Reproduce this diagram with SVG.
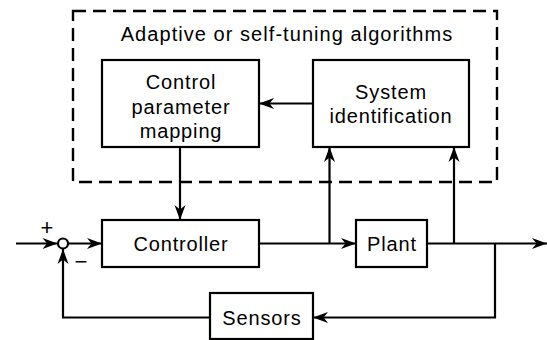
<svg xmlns="http://www.w3.org/2000/svg" width="547" height="340" viewBox="0 0 547 340">
  <defs>
    <style>
      .box { fill: #ffffff; stroke: #000000; stroke-width: 2.2; }
      .frame { fill: none; stroke: #000000; stroke-width: 2.4; stroke-dasharray: 13 7; }
      .wire { fill: none; stroke: #000000; stroke-width: 2.2; }
      .lbl { font-family: "Liberation Sans", Arial, Helvetica, sans-serif; font-size: 20px; letter-spacing: 0.85px; fill: #000000; text-anchor: middle; }
      .title { letter-spacing: 1.05px; }
      .sign { font-family: "Liberation Sans", Arial, sans-serif; font-size: 22px; fill: #000000; text-anchor: middle; }
    </style>
    <marker id="arrow" markerUnits="userSpaceOnUse" markerWidth="18" markerHeight="12" viewBox="-16 -6 17 12" refX="0" refY="0" orient="auto">
      <path d="M0,0 L-15,-5.5 L-10.5,0 L-15,5.5 Z" fill="#000000"/>
    </marker>
  </defs>

  <!-- adaptive / self-tuning enclosure -->
  <g id="adaptive-frame">
    <rect class="frame" x="73" y="11" width="424" height="171"/>
    <text class="lbl title" x="287" y="41">Adaptive or self-tuning algorithms</text>
  </g>

  <g id="control-parameter-mapping">
    <rect class="box" x="102" y="60" width="157" height="87"/>
    <text class="lbl" x="181" y="89">Control</text>
    <text class="lbl" x="181" y="114">parameter</text>
    <text class="lbl" x="181" y="138">mapping</text>
  </g>

  <g id="system-identification">
    <rect class="box" x="313" y="60" width="156" height="87"/>
    <text class="lbl" x="391" y="99">System</text>
    <text class="lbl" x="391" y="123">identification</text>
  </g>

  <g id="controller">
    <rect class="box" x="102" y="220" width="157" height="47"/>
    <text class="lbl" x="181" y="251">Controller</text>
  </g>

  <g id="plant">
    <rect class="box" x="356" y="220" width="71" height="47"/>
    <text class="lbl" x="392" y="251">Plant</text>
  </g>

  <g id="sensors">
    <rect class="box" x="210" y="293" width="103" height="46"/>
    <text class="lbl" x="262" y="325">Sensors</text>
  </g>

  <g id="summing-junction">
    <circle cx="63" cy="243.5" r="5" fill="#ffffff" stroke="#000000" stroke-width="2.2"/>
    <text class="sign" x="47" y="235">+</text>
    <text class="sign" x="81" y="269">−</text>
  </g>

  <g id="connectors">
    <line class="wire" x1="16" y1="243.5" x2="57.5" y2="243.5" marker-end="url(#arrow)"/>
    <line class="wire" x1="68" y1="243.5" x2="102" y2="243.5" marker-end="url(#arrow)"/>
    <line class="wire" x1="259" y1="243.5" x2="356" y2="243.5" marker-end="url(#arrow)"/>
    <line class="wire" x1="329.5" y1="243.5" x2="329.5" y2="147" marker-end="url(#arrow)"/>
    <line class="wire" x1="427" y1="243.5" x2="547" y2="243.5" marker-end="url(#arrow)"/>
    <line class="wire" x1="454" y1="243.5" x2="454" y2="147" marker-end="url(#arrow)"/>
    <polyline class="wire" points="495,243.5 495,317.5 313,317.5" marker-end="url(#arrow)"/>
    <polyline class="wire" points="210,317.5 63,317.5 63,249" marker-end="url(#arrow)"/>
    <line class="wire" x1="313" y1="103.5" x2="259" y2="103.5" marker-end="url(#arrow)"/>
    <line class="wire" x1="180" y1="147" x2="180" y2="220" marker-end="url(#arrow)"/>
  </g>
</svg>
